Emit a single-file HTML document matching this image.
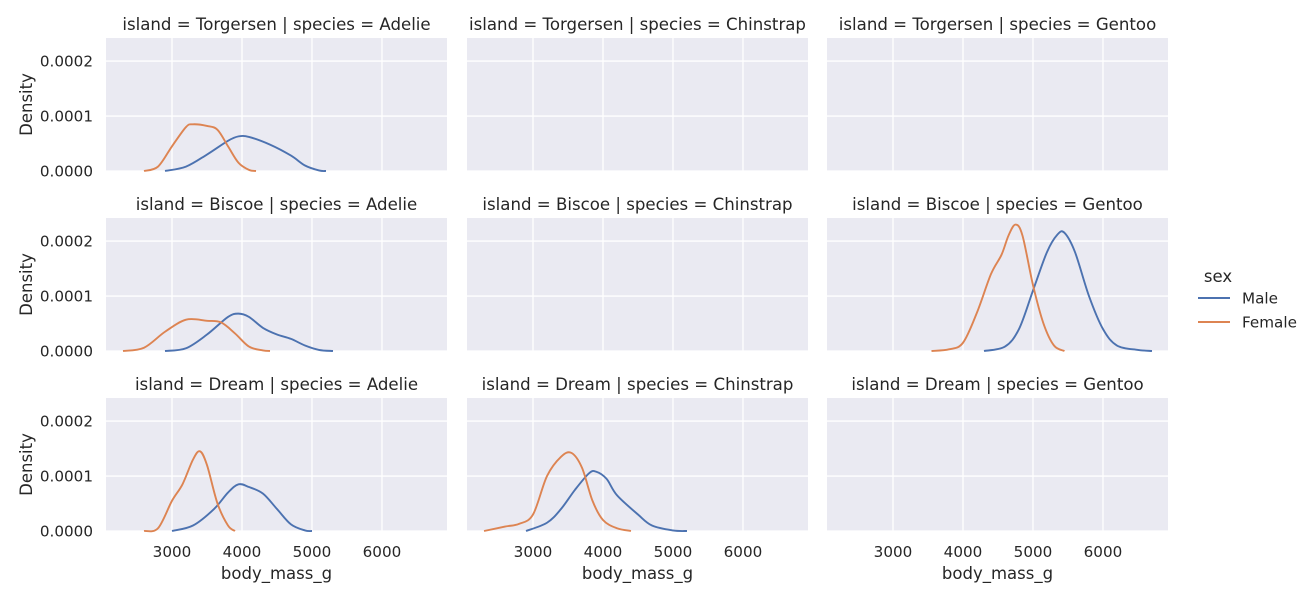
<!DOCTYPE html>
<html><head><meta charset="utf-8"><style>body{margin:0;background:#fff}svg{font-family:"DejaVu Sans","Liberation Sans",sans-serif}</style></head>
<body>
<svg id="c" width="1310" height="600"></svg>
<script>
const xTicks=[3000,4000,5000,6000];
const yTicks=[0,1,2];
const yTickLabels=["0.0000","0.0001","0.0002"];
const islands=["Torgersen","Biscoe","Dream"];
const species=["Adelie","Chinstrap","Gentoo"];
const sexes=["Male","Female"];
const torgAdelieMale=[[2900,0],[3200,0.08],[3500,0.3],[3800,0.55],[3950,0.63],[4100,0.62],[4400,0.48],[4700,0.28],[4900,0.1],[5100,0.01],[5200,0]];
const torgAdelieFemale=[[2600,0],[2800,0.08],[3000,0.45],[3200,0.8],[3300,0.85],[3500,0.82],[3650,0.75],[3800,0.45],[3950,0.15],[4100,0.02],[4200,0]];
const biscAdelieMale=[[2900,0],[3200,0.05],[3500,0.3],[3800,0.62],[3950,0.68],[4100,0.62],[4300,0.42],[4500,0.3],[4700,0.22],[4900,0.1],[5100,0.02],[5300,0]];
const biscAdelieFemale=[[2300,0],[2600,0.06],[2900,0.35],[3200,0.57],[3500,0.55],[3700,0.52],[3900,0.32],[4100,0.08],[4300,0.01],[4400,0]];
const biscGentooMale=[[4300,0],[4600,0.08],[4800,0.4],[5000,1.1],[5200,1.8],[5350,2.12],[5450,2.15],[5600,1.8],[5800,1.0],[6000,0.4],[6200,0.1],[6500,0.02],[6700,0]];
const biscGentooFemale=[[3550,0],[3800,0.03],[4000,0.15],[4200,0.7],[4400,1.4],[4550,1.75],[4650,2.1],[4750,2.3],[4850,2.1],[5000,1.2],[5150,0.5],[5300,0.1],[5450,0]];
const dreamAdelieMale=[[3000,0],[3300,0.1],[3600,0.4],[3800,0.7],[3950,0.85],[4100,0.8],[4300,0.68],[4500,0.4],[4700,0.12],[4900,0.01],[5000,0]];
const dreamAdelieFemale=[[2600,0],[2800,0.05],[3000,0.55],[3150,0.85],[3300,1.3],[3400,1.45],[3500,1.2],[3650,0.5],[3800,0.1],[3900,0]];
const dreamChinMale=[[2900,0],[3200,0.15],[3400,0.4],[3600,0.75],[3800,1.05],[3900,1.08],[4050,0.95],[4200,0.65],[4500,0.3],[4700,0.1],[5000,0.01],[5200,0]];
const dreamChinFemale=[[2300,0],[2600,0.08],[2800,0.13],[3000,0.3],[3200,1.0],[3400,1.35],[3550,1.42],[3700,1.15],[3850,0.55],[4000,0.2],[4200,0.05],[4400,0]];
const series={
 "0-0":[torgAdelieMale,torgAdelieFemale],
 "1-0":[biscAdelieMale,biscAdelieFemale],
 "1-2":[biscGentooMale,biscGentooFemale],
 "2-0":[dreamAdelieMale,dreamAdelieFemale],
 "2-1":[dreamChinMale,dreamChinFemale]
};
const colors=["#4c72b0","#dd8452"];
const NS="http://www.w3.org/2000/svg";
const svg=document.getElementById('c');
function mk(t,a,p){const e=document.createElementNS(NS,t);for(const k in a)e.setAttribute(k,a[k]);(p||svg).appendChild(e);return e;}
const colX=[106,467,827],rowY=[38,218,398],W=341,H=133;
const xMin=2057,xMax=6929,yMax=2.42;
function sx(c,v){return colX[c]+(v-xMin)/(xMax-xMin)*W;}
function sy(r,v){return rowY[r]+H-v/yMax*H;}
function path(pts){let d="M"+pts[0][0]+","+pts[0][1];for(let i=0;i<pts.length-1;i++){const p0=pts[Math.max(0,i-1)],p1=pts[i],p2=pts[i+1],p3=pts[Math.min(pts.length-1,i+2)];d+=" C"+(p1[0]+(p2[0]-p0[0])/6)+","+(p1[1]+(p2[1]-p0[1])/6)+" "+(p2[0]-(p3[0]-p1[0])/6)+","+(p2[1]-(p3[1]-p1[1])/6)+" "+p2[0]+","+p2[1];}return d;}
for(let r=0;r<3;r++)for(let c=0;c<3;c++){
 const g=mk('g',{});
 
 
 mk('rect',{x:colX[c],y:rowY[r],width:W,height:H,fill:'#eaeaf2'},g);
 xTicks.forEach(t=>mk('line',{x1:sx(c,t),x2:sx(c,t),y1:rowY[r],y2:rowY[r]+H,stroke:'#fff','stroke-width':1.3},g));
 yTicks.forEach(t=>mk('line',{x1:colX[c],x2:colX[c]+W,y1:sy(r,t),y2:sy(r,t),stroke:'#fff','stroke-width':1.3},g));
 const tt=mk('text',{x:colX[c]+W/2,y:rowY[r]-8,'text-anchor':'middle','font-size':16.6,fill:'#262626'},g);
 tt.textContent='island = '+islands[r]+' | species = '+species[c];
 
 
 const s=series[r+'-'+c];
 if(s)s.forEach((pts,i)=>{const p=mk('path',{d:path(pts.map(q=>[sx(c,q[0]),sy(r,q[1])])),fill:'none',stroke:colors[i],'stroke-width':1.9},g);
  
  });
 if(c==0){yTicks.forEach((t,i)=>{const e=mk('text',{x:93,y:sy(r,t)+5.5,'text-anchor':'end','font-size':15.2,fill:'#262626'},g);e.textContent=yTickLabels[i];
   
   });
  const yl=mk('text',{x:0,y:0,transform:'translate(32,'+(rowY[r]+H/2)+') rotate(-90)','text-anchor':'middle','font-size':16.5,fill:'#262626'},g);yl.textContent='Density';
  
  }
 if(r==2){xTicks.forEach(t=>{const e=mk('text',{x:sx(c,t),y:557,'text-anchor':'middle','font-size':15.2,fill:'#262626'},g);e.textContent=t;
   
   });
  const xl=mk('text',{x:colX[c]+W/2,y:579,'text-anchor':'middle','font-size':16.5,fill:'#262626'},g);xl.textContent='body_mass_g';
  
  }
}
const lg=mk('g',{});


const lt=mk('text',{x:1218,y:282,'text-anchor':'middle','font-size':16.5,fill:'#262626'},lg);lt.textContent='sex';
sexes.forEach((s,i)=>{const y=298+i*24;mk('line',{x1:1198,x2:1230,y1:y,y2:y,stroke:colors[i],'stroke-width':1.9},lg);
 const e=mk('text',{x:1242,y:y+5.5,'font-size':15.2,fill:'#262626'},lg);e.textContent=s;
 
 });
</script>
</body></html>
